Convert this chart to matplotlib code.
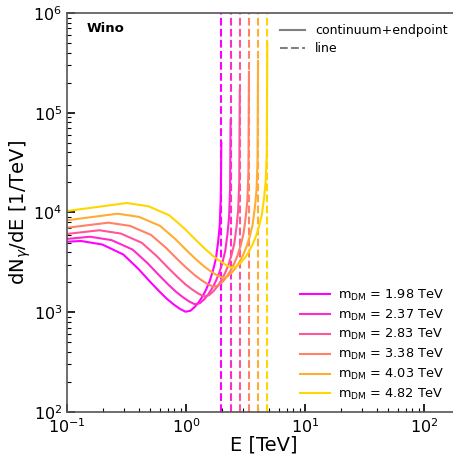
import matplotlib
matplotlib.use('Agg')
from matplotlib import pyplot as plt
from matplotlib.lines import Line2D

masses = [1.98, 2.37, 2.83, 3.38, 4.03, 4.82]
colors = ['#ff00ff', '#ff2bcc', '#ff5699', '#ff8166', '#ffac33', '#ffd700']

# spectra (E in TeV, dN/dE in 1/TeV)
E_198 = [0.1, 0.131, 0.198, 0.297, 0.396, 0.495, 0.594, 0.693, 0.792, 0.891, 0.99,
         1.089, 1.188, 1.287, 1.386, 1.485, 1.584, 1.683, 1.782, 1.861, 1.921, 1.960, 1.98]
y_198 = [5090, 5180, 4775, 3793, 2735, 2042, 1626, 1358, 1191, 1079, 1012,
         1035, 1135, 1274, 1462, 1718, 2065, 2600, 3428, 5070, 7499, 14290, 50100]

E_237 = [0.1, 0.156, 0.237, 0.356, 0.474, 0.593, 0.711, 0.830, 0.948, 1.067, 1.185,
         1.304, 1.422, 1.541, 1.659, 1.778, 1.896, 2.015, 2.133, 2.228, 2.299, 2.346, 2.37]
y_237 = [5433, 5715, 5285, 4246, 3112, 2350, 1888, 1592, 1406, 1279, 1202,
         1230, 1349, 1514, 1738, 2042, 2455, 3090, 4074, 6026, 8913, 16980, 85110]

E_283 = [0.1, 0.187, 0.283, 0.425, 0.566, 0.708, 0.849, 0.991, 1.132, 1.274, 1.415,
         1.557, 1.698, 1.840, 1.981, 2.123, 2.264, 2.406, 2.547, 2.660, 2.745, 2.802, 2.83]
y_283 = [6096, 6638, 6152, 4966, 3664, 2786, 2249, 1901, 1683, 1535, 1445,
         1479, 1622, 1820, 2089, 2455, 2951, 3715, 4898, 7244, 10715, 20420, 165960]

E_338 = [0.1, 0.223, 0.338, 0.507, 0.676, 0.845, 1.014, 1.183, 1.352, 1.521, 1.690,
         1.859, 2.028, 2.197, 2.366, 2.535, 2.704, 2.873, 3.042, 3.177, 3.279, 3.346, 3.38]
y_338 = [7031, 7907, 7345, 5970, 4446, 3404, 2767, 2355, 2089, 1914, 1803,
         1845, 2023, 2270, 2606, 3062, 3681, 4634, 6109, 9036, 13366, 25470, 257040]

E_403 = [0.1, 0.266, 0.403, 0.605, 0.806, 1.008, 1.209, 1.411, 1.612, 1.814, 2.015,
         2.217, 2.418, 2.620, 2.821, 3.023, 3.224, 3.426, 3.627, 3.788, 3.909, 3.990, 4.03]
y_403 = [8356, 9727, 9036, 7345, 5470, 4188, 3404, 2897, 2570, 2355, 2218,
         2270, 2489, 2793, 3206, 3767, 4529, 5702, 7516, 11117, 16444, 31330, 331130]

E_482 = [0.1, 0.318, 0.482, 0.723, 0.964, 1.205, 1.446, 1.687, 1.928, 2.169, 2.410,
         2.651, 2.892, 3.133, 3.374, 3.615, 3.856, 4.097, 4.338, 4.531, 4.675, 4.772, 4.82]
y_482 = [10351, 12445, 11561, 9376, 6950, 5321, 4315, 3664, 3251, 2972, 2799,
         2864, 3141, 3524, 4046, 4753, 5715, 7194, 9484, 14028, 20749, 39540, 501190]

energies = [E_198, E_237, E_283, E_338, E_403, E_482]
spectra = [y_198, y_237, y_283, y_338, y_403, y_482]

fig = plt.figure(figsize=(4.53, 4.59), dpi=100)
ax = fig.add_axes([0.148, 0.1024, 0.867, 0.8693])

handles = []
for m, E, y, c in zip(masses, energies, spectra, colors):
    h, = ax.plot(E, y, color=c, lw=1.5, label=r'm$_{\rm DM}$ = %.2f TeV' % m)
    ax.axvline(m, color=c, lw=1.5, linestyle='--')
    handles.append(h)

ax.set_xscale('log')
ax.set_yscale('log')
ax.set_xlim(0.1, 200)
ax.set_ylim(1e2, 1e6)

ax.tick_params(which='both', direction='in', labelsize=11.5)
ax.tick_params(which='major', length=6, width=1.2)
ax.tick_params(which='minor', length=3, width=0.8)
for s in ax.spines.values():
    s.set_color('#555555')
    s.set_linewidth(1.2)

ax.set_xlabel('E [TeV]', fontsize=14, labelpad=0)
ax.set_ylabel(r'dN$_\gamma$/dE [1/TeV]', fontsize=14, labelpad=0)

ax.text(0.05, 0.96, 'Wino', transform=ax.transAxes, fontsize=9.5,
        fontweight='bold', va='center', ha='left')

style_handles = [Line2D([], [], color='gray', lw=1.5, ls='-'),
                 Line2D([], [], color='gray', lw=1.5, ls='--')]
leg1 = ax.legend(style_handles, ['continuum+endpoint', 'line'],
                 loc='upper left', bbox_to_anchor=(0.53, 0.985), frameon=False,
                 fontsize=9, handlelength=2.0, borderaxespad=0, labelspacing=0.4)
ax.add_artist(leg1)
ax.legend(handles=handles, loc='lower left', bbox_to_anchor=(0.58, 0.012),
          frameon=False, fontsize=9.3, handlelength=2.35, handletextpad=0.6,
          borderaxespad=0, labelspacing=0.37)

fig.savefig('out.png', dpi=100)
